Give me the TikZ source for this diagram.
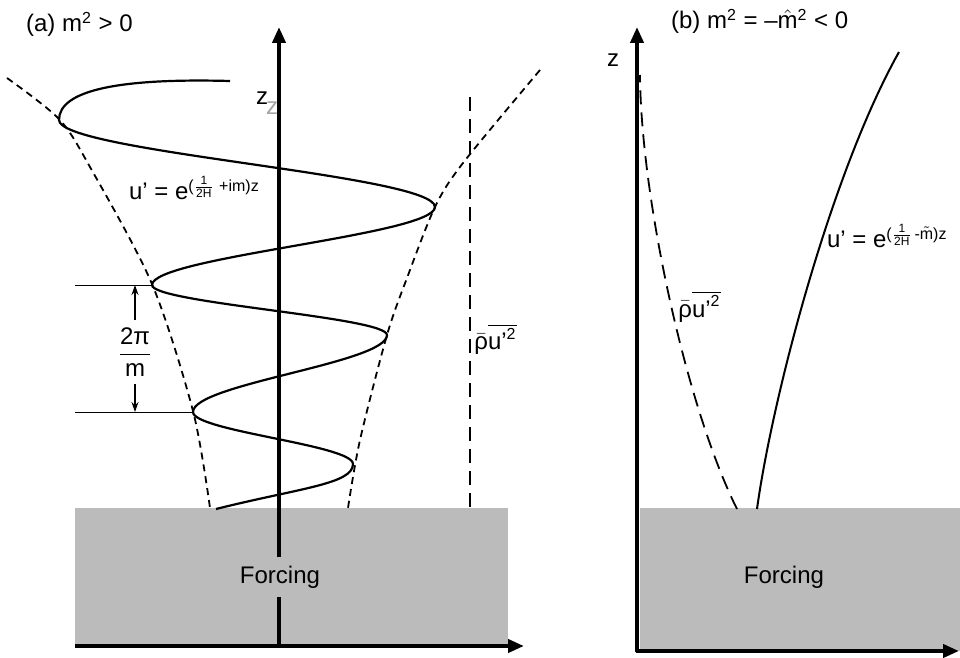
\documentclass[tikz,border=0pt]{standalone}
\usepackage{amsmath}
\usepackage{fontspec}
\setmainfont{Liberation Sans}
\usepackage{tikz}
\usetikzlibrary{arrows.meta, positioning}
\definecolor{forcegray}{HTML}{BBBBBB}

\begin{document}
\begin{tikzpicture}[x=0.5pt, y=-0.5pt, font=\fontsize{12}{14}\selectfont,
    axisline/.style={line width=2pt, -{Triangle[length=8pt, width=6.5pt]}},
    wave/.style={line width=1.1pt},
    envelope/.style={line width=0.9pt, dash pattern=on 3.5pt off 2.5pt},
    flux/.style={line width=0.7pt, dash pattern=on 7pt off 4pt},
    tickline/.style={line width=0.4pt},
    gaparrow/.style={line width=0.6pt, -{Stealth[length=5pt, width=3.5pt]}},
    forcelabel/.style={inner xsep=3.5pt, inner ysep=4pt}]
    \useasboundingbox (0,0) rectangle (960,658);

    % (a) 振荡解
    \begin{scope}
        \fill[forcegray] (75,508) rectangle (508,646);
        \coordinate (S0) at (230,81);
        \coordinate (L1) at (59,120);
        \coordinate (R1) at (435,207);
        \coordinate (L2) at (152,285);
        \coordinate (R2) at (387,335);
        \coordinate (L3) at (193,412);
        \coordinate (R3) at (353,464);
        \coordinate (S1) at (216,509);
        \draw[envelope] plot[smooth] coordinates {(7,78) (59,119) (90,167) (152,284) (193,411) (210,508)};
        \draw[envelope] plot[smooth] coordinates {(540,70) (463,163) (435,207) (407,278) (387,335) (360,440) (348,508)};
        \draw[flux] (470,97) -- (470,508);
        \draw[wave] (S0) .. controls (120,78) and (59,90) .. (L1)
            .. controls (59,152) and (435,175) .. (R1)
            .. controls (435,235) and (152,257) .. (L2)
            .. controls (152,303) and (387,317) .. (R2)
            .. controls (387,363) and (193,384) .. (L3)
            .. controls (193,431) and (353,445) .. (R3)
            .. controls (353,484) and (300,488) .. (S1);
        \node[forcelabel] (forceA) at (280,577) {Forcing};
        \coordinate (OA) at (279,646);
        \draw[axisline] (75,646) -- (524,646);
        \draw[line width=2pt] (OA) -- (OA |- forceA.south);
        \draw[axisline] (OA |- forceA.north) -- (279,27);
        \node[anchor=base west] (titleA) at (19,32) {(a) m\textsuperscript{2} > 0};
        \node (zA) at (262,98) {z};
        \node[gray!70] (zAgray) at (272,108) {z};
        \node[anchor=base west] (waveA) at (122,200) {u' = e\textsuperscript{($\frac{\text{1}}{\text{2H}}$\,\,+im)z}};
        \node[anchor=base west, inner sep=1pt] (fluxA) at (472,350) {$\bar{\text{ρ}}\overline{\text{u'}^{\text{2}}}$};
        % 波长标注
        \draw[tickline] (75,285) -- (L2);
        \draw[tickline] (75,412) -- (L3);
        \node (wavelen) at (135,352) {$\dfrac{\text{2π}}{\text{m}}$};
        \draw[gaparrow] (wavelen.north) -- (wavelen.north |- L2);
        \draw[gaparrow] (wavelen.south) -- (wavelen.south |- L3);
    \end{scope}

    % (b) 衰减解
    \begin{scope}
        \fill[forcegray] (640,508) rectangle (960,651);
        \coordinate (D0) at (737,509);
        \coordinate (D1) at (640,75);
        \coordinate (U0) at (757,509);
        \coordinate (U1) at (899,52);
        \draw[flux, line width=0.9pt] (D0) .. controls (687,409) and (641,200) .. (D1);
        \draw[wave, line width=1pt] (U0) .. controls (772,400) and (830,175) .. (U1);
        \draw[axisline] (636,651) -- (959,651);
        \draw[axisline] (637,652) -- (637,27);
        \node (forceB) at (784,577) {Forcing};
        \node[anchor=base west] (titleB) at (664,29) {(b) m\textsuperscript{2} = –$\hat{\text{m}}$\textsuperscript{2} < 0};
        \node (zB) at (613,60) {z};
        \node[anchor=base west] (waveB) at (820,248) {u' = e\textsuperscript{($\frac{\text{1}}{\text{2H}}$\,-$\tilde{\text{m}}$)z}};
        \node[anchor=base west, inner sep=1pt] (fluxB) at (676,317) {$\bar{\text{ρ}}\overline{\text{u'}^{\text{2}}}$};
    \end{scope}
\end{tikzpicture}
\end{document}
